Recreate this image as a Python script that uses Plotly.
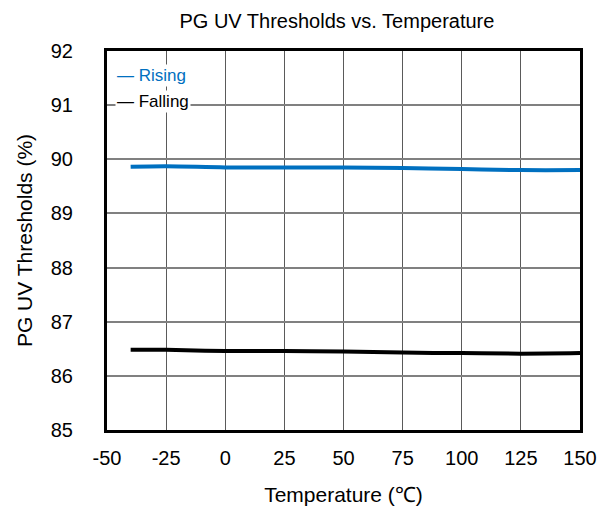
import plotly.graph_objects as go

# Data
temperature = [-40, -25, 0, 25, 50, 75, 100, 125, 150]
rising = [89.86, 89.87, 89.85, 89.85, 89.85, 89.84, 89.82, 89.80, 89.80]
falling = [86.48, 86.48, 86.46, 86.46, 86.45, 86.43, 86.42, 86.41, 86.42]

x_ticks = [-50, -25, 0, 25, 50, 75, 100, 125, 150]
x_labels = ['-50', '-25', '0', '25', '50', '75', '100', '125', '150']
y_ticks = [85, 86, 87, 88, 89, 90, 91, 92]

font = "Liberation Sans, Arial, sans-serif"

fig = go.Figure()

fig.add_trace(go.Scatter(
    x=temperature, y=rising, mode='lines', name='Rising',
    line=dict(color='#0070C0', width=4, shape='spline'),
    showlegend=False
))
fig.add_trace(go.Scatter(
    x=temperature, y=falling, mode='lines', name='Falling',
    line=dict(color='black', width=4, shape='spline'),
    showlegend=False
))

# Legend drawn as text boxes (short dash markers like the original)
fig.add_annotation(x=0.017, y=0.936, xref='paper', yref='paper', xanchor='left',
                   yanchor='middle', text='— Rising', showarrow=False,
                   font=dict(family=font, size=17, color='#0070C0'),
                   bgcolor='white', borderpad=1)
fig.add_annotation(x=0.017, y=0.866, xref='paper', yref='paper', xanchor='left',
                   yanchor='middle', text='— Falling', showarrow=False,
                   font=dict(family=font, size=17, color='black'),
                   bgcolor='white', borderpad=1)

# page body adds an 8px margin, so the figure is sized to fit inside it
fig.update_layout(
    width=598, height=501,
    margin=dict(l=99, r=26, t=43, b=79),
    paper_bgcolor='white', plot_bgcolor='white',
    title=dict(text='PG UV Thresholds vs. Temperature', x=0.55, xanchor='center',
               y=0.974, yanchor='middle',
               font=dict(family=font, size=20, color='black')),
    font=dict(family=font, color='black'),
    xaxis=dict(
        range=[-50, 150], tickvals=x_ticks, ticktext=x_labels,
        tickfont=dict(size=20), ticklabelstandoff=8, automargin=False,
        showgrid=True, gridcolor='#5a5a5a', gridwidth=1,
        showline=True, linecolor='black', linewidth=3, mirror=True,
        zeroline=False,
        title=dict(text='Temperature (℃)', font=dict(size=21), standoff=20),
    ),
    yaxis=dict(
        range=[85, 92], tickvals=y_ticks,
        tickfont=dict(size=20), ticklabelstandoff=27, automargin=False,
        showgrid=True, gridcolor='#808080', gridwidth=1.5,
        showline=True, linecolor='black', linewidth=3, mirror=True,
        zeroline=False,
        title=dict(text='PG UV Thresholds (%)', font=dict(size=21), standoff=13),
    ),
)

fig.write_html("out.html")
